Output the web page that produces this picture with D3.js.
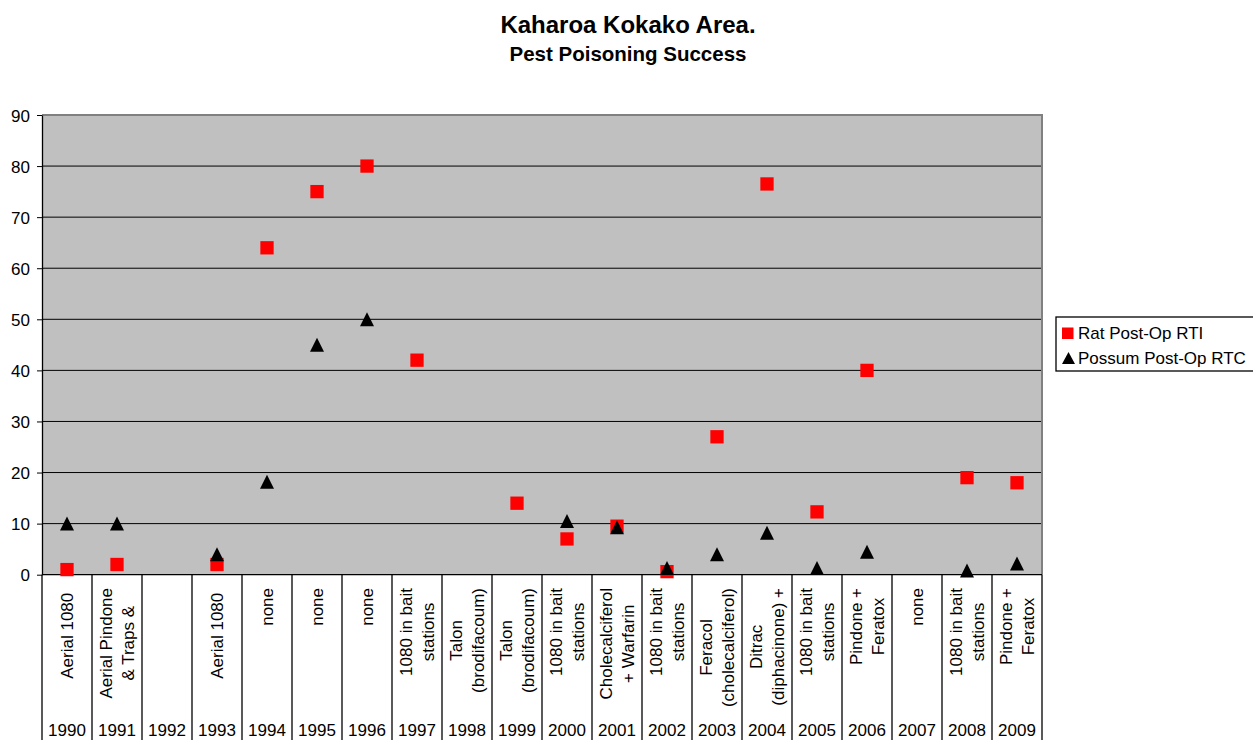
<!DOCTYPE html>
<html>
<head>
<meta charset="utf-8">
<script src="https://cdn.jsdelivr.net/npm/d3@7"></script>
<style>
  html, body { margin: 0; padding: 0; background: #fff; }
  svg { display: block; font-family: "Liberation Sans", Arial, sans-serif; }
</style>
</head>
<body>
<svg id="chart" width="1253" height="740"></svg>
<script>
// ---- data ----
const years = ["1990","1991","1992","1993","1994","1995","1996","1997","1998","1999",
               "2000","2001","2002","2003","2004","2005","2006","2007","2008","2009"];
const methods = [
  ["Aerial 1080 "],
  ["Aerial Pindone", "& Traps &"],
  [],
  ["Aerial 1080 "],
  ["none"],
  ["none"],
  ["none"],
  ["1080 in bait", "stations"],
  ["Talon", "(brodifacoum)"],
  ["Talon", "(brodifacoum)"],
  ["1080 in bait", "stations"],
  ["Cholecalciferol", "+ Warfarin"],
  ["1080 in bait", "stations"],
  ["Feracol", "(cholecalciferol)"],
  ["Ditrac", "(diphacinone) +"],
  ["1080 in bait", "stations"],
  ["Pindone +", "Feratox"],
  ["none"],
  ["1080 in bait", "stations"],
  ["Pindone +", "Feratox"]
];
const ratRTI    = [1, 2, null, 2, 64, 75, 80, 42, null, 14, 7, 9.5, 0.6, 27, 76.5, 12.3, 40, null, 19, 18];
const possumRTC = [10, 10, null, 4, 18.2, 45, 50, null, null, null, 10.5, 9.3, 1.3, 4, 8.2, 1.3, 4.5, null, 0.8, 2.2];
const yTicks = [0, 10, 20, 30, 40, 50, 60, 70, 80, 90];
const seriesNames = ["Rat Post-Op RTI", "Possum Post-Op RTC"];

// ---- layout ----
const svg = d3.select("#chart");
const L = 42, R = 1042, T = 115, B = 574.7;
const x = d3.scaleBand().domain(years).range([L, R]).paddingInner(0).paddingOuter(0);
const y = d3.scaleLinear().domain([0, 90]).range([B, T]);
const font = 17;

// titles
svg.append("text").attr("x", 628).attr("y", 32.7).attr("text-anchor", "middle")
  .attr("font-size", 24).attr("font-weight", "bold").text("Kaharoa Kokako Area.");
svg.append("text").attr("x", 628).attr("y", 61).attr("text-anchor", "middle")
  .attr("font-size", 20.5).attr("font-weight", "bold").text("Pest Poisoning Success");

// plot background
svg.append("rect").attr("x", L).attr("y", T).attr("width", R - L).attr("height", B - T)
  .attr("fill", "#C0C0C0");

// gridlines
svg.append("g").selectAll("line").data(yTicks.filter(d => d > 0 && d < 90)).join("line")
  .attr("x1", L).attr("x2", R).attr("y1", d => y(d)).attr("y2", d => y(d))
  .attr("stroke", "#000").attr("stroke-width", 1);

// plot border top/right (gray)
svg.append("path")
  .attr("d", `M${L},${T}H${R}V${B}`)
  .attr("fill", "none").attr("stroke", "#808080").attr("stroke-width", 2);

// y axis
const yAxis = d3.axisLeft(y).tickValues(yTicks).tickSize(5).tickPadding(7).tickSizeOuter(0);
const ya = svg.append("g").attr("transform", `translate(${L},0)`).call(yAxis);
ya.select(".domain").attr("stroke", "#000").attr("stroke-width", 1.3);
ya.selectAll(".tick line").attr("stroke", "#000");
ya.selectAll(".tick text").attr("font-size", font).attr("fill", "#000")
  .attr("font-family", '"Liberation Sans", Arial, sans-serif').attr("dy", "0.36em");

// x axis bottom line + category separators
svg.append("line").attr("x1", L).attr("x2", R).attr("y1", B).attr("y2", B)
  .attr("stroke", "#000").attr("stroke-width", 1.3);
const bounds = years.map(d => x(d)).concat([R]);
svg.append("g").selectAll("line").data(bounds).join("line")
  .attr("x1", d => d).attr("x2", d => d).attr("y1", B).attr("y2", 742)
  .attr("stroke", "#000").attr("stroke-width", 1.3);

// method labels (rotated)
const labG = svg.append("g");
years.forEach((yr, i) => {
  const lines = methods[i];
  if (!lines.length) return;
  const c = x(yr) + x.bandwidth() / 2;
  const g = labG.append("g");
  const texts = lines.map((t, j) => {
    const bx = lines.length === 1 ? c + 6.1 : (j === 0 ? c - 5 : c + 17);
    return g.append("text").attr("font-size", font).attr("text-anchor", "middle")
      .style("white-space", "pre").text(t).attr("data-bx", bx);
  });
  const maxW = d3.max(texts, t => t.node().getComputedTextLength());
  const cy = 588 + maxW / 2;
  texts.forEach(t => {
    const bx = +t.attr("data-bx");
    t.attr("transform", `translate(${bx},${cy}) rotate(-90)`).attr("x", 0).attr("y", 0);
  });
});

// year labels
svg.append("g").selectAll("text").data(years).join("text")
  .attr("x", d => x(d) + x.bandwidth() / 2).attr("y", 736)
  .attr("text-anchor", "middle").attr("font-size", font).text(d => d);

// markers
const sq = 13.3, tri = 14;
const triPath = (cx, cy) => `M${cx},${cy - tri / 2}L${cx + tri / 2},${cy + tri / 2}L${cx - tri / 2},${cy + tri / 2}Z`;

svg.append("g").selectAll("rect")
  .data(years.map((d, i) => ({ yr: d, v: ratRTI[i] })).filter(d => d.v != null))
  .join("rect")
  .attr("x", d => x(d.yr) + x.bandwidth() / 2 - sq / 2)
  .attr("y", d => y(d.v) - sq / 2)
  .attr("width", sq).attr("height", sq).attr("fill", "#FF0000");

svg.append("g").selectAll("path")
  .data(years.map((d, i) => ({ yr: d, v: possumRTC[i] })).filter(d => d.v != null))
  .join("path")
  .attr("d", d => triPath(x(d.yr) + x.bandwidth() / 2, y(d.v)))
  .attr("fill", "#000");

// legend
const lg = svg.append("g");
lg.append("rect").attr("x", 1056).attr("y", 317).attr("width", 220).attr("height", 54)
  .attr("fill", "#fff").attr("stroke", "#000").attr("stroke-width", 1.3);
lg.append("rect").attr("x", 1062).attr("y", 327.5).attr("width", 11.5).attr("height", 11.5).attr("fill", "#FF0000");
lg.append("path").attr("d", "M1068.5,352L1075,364L1062,364Z").attr("fill", "#000");
lg.append("text").attr("x", 1078).attr("y", 339).attr("font-size", font).text(seriesNames[0]);
lg.append("text").attr("x", 1078).attr("y", 364).attr("font-size", font).text(seriesNames[1]);
</script>
</body>
</html>
